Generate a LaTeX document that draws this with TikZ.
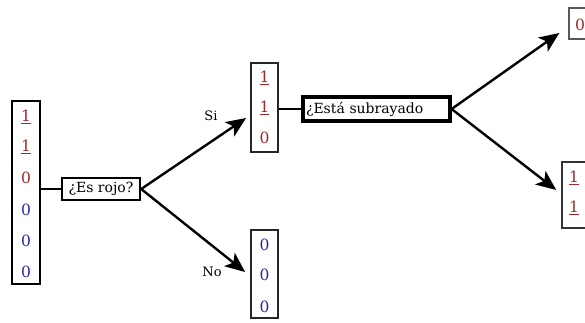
\documentclass[tikz,border=0pt]{standalone}
\usepackage{fontspec}
\setmainfont{DejaVu Serif}
\usetikzlibrary{arrows.meta,calc}
\definecolor{dred}{RGB}{160,40,40}
\definecolor{dblue}{RGB}{40,40,170}
\tikzset{
  digr/.style={text=dred,font=\fontsize{15.5}{15.5}\selectfont,inner sep=0pt},
  digb/.style={text=dblue,font=\fontsize{15.5}{15.5}\selectfont,inner sep=0pt},
  vbox/.style={draw,rectangle,inner sep=0pt},
  qbox/.style={draw,rectangle,inner sep=0pt,font=\fontsize{14}{14}\selectfont},
  lbl/.style={font=\fontsize{13}{13}\selectfont,inner sep=0pt},
  arr/.style={line width=2.4pt,-{Stealth[length=20pt,width=17pt,inset=5pt]}},
  conn/.style={line width=2pt}
}
\begin{document}
\begin{tikzpicture}[x=1pt,y=-1pt]
\useasboundingbox (0,0) rectangle (585,322);
\clip (0,0) rectangle (585,322);
% left column
\node[vbox,line width=2.4pt,minimum width=28pt,minimum height=183pt] (L) at (26,192.5) {};
\node[digr] (l1) at (26,117) {\underline{1}};
\node[digr] (l2) at (26,147) {\underline{1}};
\node[digr] (l3) at (26,178) {0};
\node[digb] (l4) at (26,210) {0};
\node[digb] (l5) at (26,241) {0};
\node[digb] (l6) at (26,272) {0};
% question 1
\node[qbox,line width=2.4pt,minimum width=78pt,minimum height=22pt] (q1) at (101,189) {¿Es rojo?};
\draw[conn] (L.east |- q1.west) -- (q1.west);
% middle top
\node[vbox,line width=1.8pt,draw=black!85,minimum width=27pt,minimum height=89pt] (M1) at (264.5,107.5) {};
\node[digr] (m1) at (264.5,78) {\underline{1}};
\node[digr] (m2) at (264.5,108) {\underline{1}};
\node[digr] (m3) at (264.5,138) {0};
% middle bottom
\node[vbox,line width=1.8pt,draw=black!85,minimum width=27pt,minimum height=88pt] (M2) at (264.5,274) {};
\node[digb] (n1) at (264.5,245) {0};
\node[digb] (n2) at (264.5,275) {0};
\node[digb] (n3) at (264.5,307) {0};
% arrows from q1
\draw[arr] (q1.east) -- ($(M1.west)+(-4,10.5)$);
\draw[arr] (q1.east) -- ($(M2.west)+(-5,-2)$);
\node[lbl] (si) at (211,116) {Si};
\node[lbl] (no) at (212,272) {No};
% question 2
\node[qbox,line width=3.2pt,minimum width=147pt,minimum height=24pt,text width=141pt,align=left,inner xsep=3pt] (q2) at (376.5,109) {¿Está subrayado};
\draw[conn] (M1.east |- q2.west) -- (q2.west);
% right nodes
\node[vbox,line width=1.4pt,draw=black!65,minimum width=40pt,minimum height=31pt] (R1) at (589,23.5) {};
\node[digr] (r1) at (580,25) {0};
\node[vbox,line width=1.6pt,draw=black!80,minimum width=40pt,minimum height=66pt] (R2) at (582,195) {};
\node[digr] (r2) at (574,178) {\underline{1}};
\node[digr] (r3) at (574,208) {\underline{1}};
\draw[arr] (q2.east) -- ($(R1.west)+(-9,9.5)$);
\draw[arr] (q2.east) -- ($(R2.west)+(-5,-5)$);
\end{tikzpicture}
\end{document}
